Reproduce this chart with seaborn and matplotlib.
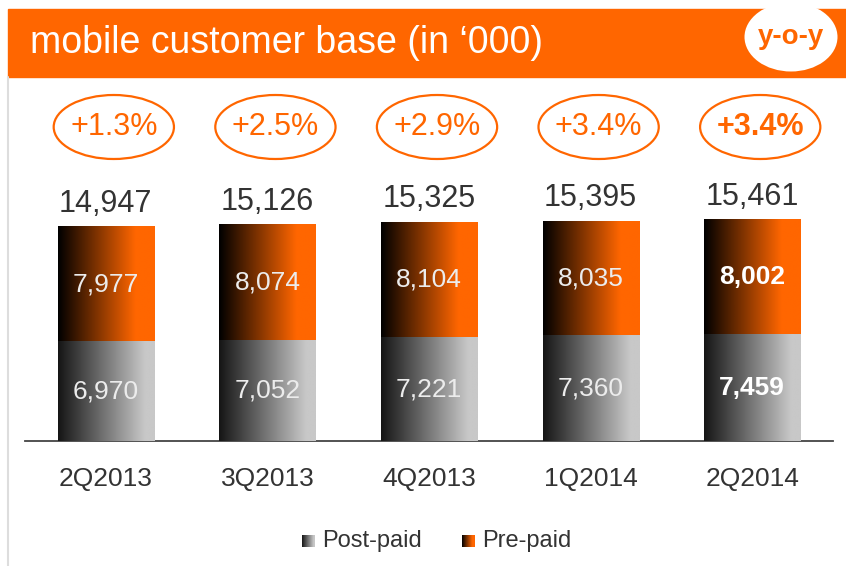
import matplotlib.pyplot as plt
import seaborn as sns
import pandas as pd
import numpy as np
from matplotlib.patches import Ellipse, Rectangle
from matplotlib.lines import Line2D
from matplotlib.colors import to_rgb

# data
quarters = ['2Q2013', '3Q2013', '4Q2013', '1Q2014', '2Q2014']
post_paid = [6970, 7052, 7221, 7360, 7459]
pre_paid = [7977, 8074, 8104, 8035, 8002]
yoy_growth = ['+1.3%', '+2.5%', '+2.9%', '+3.4%', '+3.4%']
legend_labels = ['Post-paid', 'Pre-paid']
title = 'mobile customer base (in \u2018000)'

ORANGE = '#ff6600'
GRAY = '#c8c8c8'
TXT = '#333333'
W, H = 846, 566

sns.set_theme(style='white')
plt.rcParams['font.family'] = ['Liberation Sans', 'DejaVu Sans']

df = pd.DataFrame({'quarter': quarters, 'post': post_paid, 'pre': pre_paid})
df['total'] = df['post'] + df['pre']


def fx(x):
    return x / W


def fy(y):
    return 1 - y / H


def gradient(color, dark, reach):
    # horizontal ramp: dark on the left, full colour from `reach` onwards
    t = np.clip(np.linspace(0, 1, 256) / reach, 0, 1)
    c0 = np.array(to_rgb(dark))
    c1 = np.array(to_rgb(color))
    return (c0 + (c1 - c0) * t[:, None])[None, :, :]


grad_pre = gradient(ORANGE, '#000000', 0.8)
grad_post = gradient(GRAY, '#151515', 0.9)

fig = plt.figure(figsize=(8.46, 5.66), dpi=100)
fig.patch.set_facecolor('white')

px_per_unit = 0.0143
ax = fig.add_axes([fx(25), fy(441), fx(833) - fx(25), fy(80) - fy(441)])
ymax = 361 / px_per_unit

sns.barplot(data=df, x='quarter', y='total', color=ORANGE, width=0.595,
            saturation=1, ax=ax)
sns.barplot(data=df, x='quarter', y='post', color=GRAY, width=0.595,
            saturation=1, ax=ax)

n = len(quarters)
tot_bars = ax.patches[:n]
post_bars = ax.patches[n:2 * n]
for i in range(n):
    tb, pb = tot_bars[i], post_bars[i]
    x0, x1 = tb.get_x(), tb.get_x() + tb.get_width()
    ax.imshow(grad_pre, extent=(x0, x1, pb.get_height(), tb.get_height()),
              aspect='auto', interpolation='bilinear', zorder=3)
    ax.imshow(grad_post, extent=(x0, x1, 0, pb.get_height()),
              aspect='auto', interpolation='bilinear', zorder=3)

    last = i == n - 1
    fw = 'bold' if last else 'normal'
    inner_c = 'white' if last else '#ececec'
    ax.text(i, post_paid[i] / 2, f'{post_paid[i]:,}', ha='center', va='center',
            fontsize=19, color=inner_c, fontweight=fw, zorder=5)
    ax.text(i, post_paid[i] + pre_paid[i] / 2, f'{pre_paid[i]:,}', ha='center',
            va='center', fontsize=19, color=inner_c, fontweight=fw, zorder=5)
    ax.annotate(f'{df.total[i]:,}', (i, df.total[i]), xytext=(0, 23),
                textcoords='offset pixels', ha='center', va='center',
                fontsize=22, color=TXT, zorder=5)

    # y-o-y growth bubble
    ex = i + 8 / 161.25
    ey = (441 - 127) / px_per_unit
    ax.add_patch(Ellipse((ex, ey), 120 / 161.25, 64 / px_per_unit, fc='none',
                         ec=ORANGE, lw=1.6, clip_on=False, zorder=4))
    ax.text(ex, ey, yoy_growth[i], ha='center', va='center', fontsize=22,
            color=ORANGE, fontweight=fw, zorder=5)

ax.set_xlim(-0.5, n - 0.5)
ax.set_ylim(0, ymax)
ax.set_xlabel('')
ax.set_ylabel('')
ax.set_yticks([])
ax.tick_params(axis='x', length=0, pad=19, labelsize=19, labelcolor=TXT)
for side in ['top', 'left', 'right']:
    ax.spines[side].set_visible(False)
ax.spines['bottom'].set_color('#444444')
ax.spines['bottom'].set_linewidth(1.3)
ax.set_facecolor('none')

# header band
fig.add_artist(Rectangle((fx(8), fy(77)), 1 - fx(8), fy(9) - fy(77),
                         transform=fig.transFigure, color=ORANGE, zorder=0))
fig.text(fx(30), fy(43), title, color='white', fontsize=27, va='center')
fig.add_artist(Ellipse((fx(791), fy(37)), 93 / W, 69 / H,
                       transform=fig.transFigure, fc='white', ec='none'))
fig.text(fx(791), fy(37), 'y-o-y', color=ORANGE, fontsize=20,
         fontweight='bold', ha='center', va='center')
fig.add_artist(Line2D([fx(8), fx(8)], [fy(77), 0], transform=fig.transFigure,
                      color='#dddddd', lw=1.5))

# legend with gradient swatches
for lab, grad, sx in zip(legend_labels, [grad_post, grad_pre], [302, 462]):
    sw = fig.add_axes([fx(sx), fy(547), 13 / W, 12 / H])
    sw.imshow(grad, aspect='auto', interpolation='bilinear')
    sw.axis('off')
    fig.text(fx(sx + 20), fy(541), lab, fontsize=17, color=TXT, va='center')

fig.savefig('out.png', dpi=100)
